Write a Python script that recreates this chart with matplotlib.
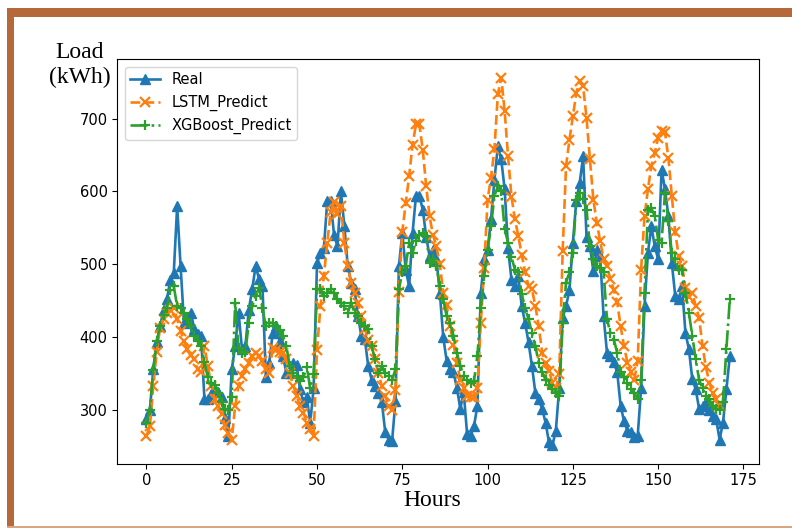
import matplotlib
matplotlib.use("Agg")
import matplotlib.pyplot as plt
from matplotlib.patches import Rectangle
import numpy as np

# hourly load values (kWh)
real = [
    288, 300, 357, 393, 415, 438, 452, 479, 488, 580,
    498, 420, 425, 434, 412, 405, 402, 315, 315, 322,
    329, 325, 318, 290, 265, 356, 388, 434, 384, 388,
    438, 466, 498, 480, 471, 346, 365, 406, 415, 395,
    375, 351, 351, 365, 362, 329, 311, 318, 283, 330,
    502, 515, 522, 587, 587, 540, 525, 600, 553, 498,
    475, 466, 429, 402, 398, 361, 342, 333, 324, 311,
    270, 260, 258, 313, 498, 543, 493, 470, 543, 594,
    594, 575, 538, 511, 520, 507, 461, 400, 368, 356,
    352, 331, 302, 325, 267, 265, 278, 306, 461, 507,
    520, 562, 616, 662, 644, 603, 522, 479, 470, 484,
    443, 420, 393, 361, 324, 315, 302, 283, 256, 252,
    272, 331, 427, 443, 465, 530, 587, 612, 648, 538,
    525, 491, 520, 511, 429, 379, 375, 366, 352, 306,
    285, 272, 270, 263, 265, 330, 443, 516, 552, 525,
    507, 630, 603, 566, 502, 457, 452, 470, 406, 384,
    343, 329, 302, 306, 311, 300, 292, 288, 260, 283,
    329, 374,
]

lstm = [
    265, 278, 333, 380, 413, 425, 434, 438, 440, 425,
    409, 395, 384, 376, 370, 356, 352, 388, 361, 334,
    316, 306, 295, 280, 269, 260, 306, 334, 347, 356,
    365, 375, 379, 375, 368, 356, 351, 386, 383, 380,
    379, 370, 351, 334, 320, 306, 297, 283, 274, 265,
    383, 443, 484, 530, 572, 585, 569, 580, 530, 498,
    475, 461, 447, 429, 411, 397, 388, 370, 351, 333,
    319, 306, 300, 328, 462, 545, 584, 621, 664, 692,
    692, 657, 607, 566, 540, 525, 500, 461, 445, 415,
    390, 365, 342, 331, 320, 318, 318, 330, 420, 495,
    589, 619, 658, 733, 756, 710, 648, 593, 562, 539,
    513, 490, 470, 466, 443, 415, 379, 365, 354, 338,
    330, 350, 518, 635, 671, 703, 735, 751, 744, 701,
    644, 589, 557, 532, 507, 498, 480, 465, 448, 415,
    388, 365, 352, 342, 368, 493, 566, 603, 635, 653,
    674, 683, 681, 646, 594, 544, 512, 498, 468, 455,
    461, 443, 427, 388, 359, 338, 324, 315, 306,
]

xgb = [
    283, 300, 355, 395, 415, 430, 440, 465, 470, 443,
    440, 434, 425, 415, 402, 395, 388, 366, 345, 338,
    335, 324, 311, 302, 300, 318, 447, 385, 379, 380,
    420, 443, 457, 468, 440, 415, 420, 420, 415, 410,
    402, 388, 361, 351, 347, 340, 345, 360, 330, 350,
    466, 466, 457, 461, 466, 461, 452, 447, 443, 434,
    447, 434, 429, 420, 415, 411, 388, 370, 351, 361,
    351, 347, 342, 356, 466, 489, 498, 530, 516, 532,
    540, 543, 539, 502, 507, 498, 470, 452, 429, 420,
    402, 379, 361, 347, 342, 338, 340, 374, 440, 484,
    520, 552, 594, 607, 600, 548, 530, 510, 493, 489,
    460, 440, 425, 406, 388, 365, 352, 342, 335, 329,
    324, 320, 420, 475, 490, 516, 589, 598, 590, 575,
    525, 507, 498, 495, 489, 425, 406, 397, 379, 352,
    345, 338, 329, 324, 315, 342, 461, 575, 577, 566,
    534, 530, 598, 560, 516, 507, 493, 493, 461, 434,
    402, 370, 342, 330, 320, 315, 306, 302, 300, 311,
    384, 452,
]

fig = plt.figure(figsize=(7.92, 5.29), dpi=100)
ax = fig.add_axes([0.1481, 0.1234, 0.8102, 0.7645])

ax.plot(np.arange(len(real)), real, marker="^", linestyle="-", color="tab:blue",
        lw=1.9, ms=7, label="Real")
ax.plot(np.arange(len(lstm)), lstm, marker="x", linestyle="--", color="tab:orange",
        lw=1.9, ms=7.5, mew=1.6, label="LSTM_Predict")
ax.plot(np.arange(len(xgb)), xgb, marker="+", linestyle="-.", color="tab:green",
        lw=1.9, ms=7.5, mew=1.6, label="XGBoost_Predict")

ax.set_xticks([0, 25, 50, 75, 100, 125, 150, 175])
ax.set_yticks([300, 400, 500, 600, 700])
ax.tick_params(labelsize=10.5)
ax.legend(loc="upper left", fontsize=10.5)

serif = ["Liberation Serif", "DejaVu Serif"]
fig.text(80 / 792, 1 - 65 / 529, "Load\n(kWh)", ha="center", va="center",
         family=serif, fontsize=17, linespacing=1.25)
fig.text(432 / 792, 1 - 501 / 529, "Hours", ha="center", va="center",
         family=serif, fontsize=17)

# brown frame around the picture
brown = "#B5683A"
W, H = 792, 529
fig.add_artist(Rectangle((7 / W, 1 - 16.7 / H), 1 - 7 / W, 8.7 / H,
                         transform=fig.transFigure, color=brown, lw=0))
fig.add_artist(Rectangle((7 / W, 1 - 527 / H), 7.3 / W, (527 - 8) / H,
                         transform=fig.transFigure, color=brown, lw=0))
fig.add_artist(Rectangle((7 / W, 1 - 528 / H), 1 - 7 / W, 2 / H,
                         transform=fig.transFigure, color="#D9A47E", lw=0))

fig.savefig("out.png", dpi=100)
